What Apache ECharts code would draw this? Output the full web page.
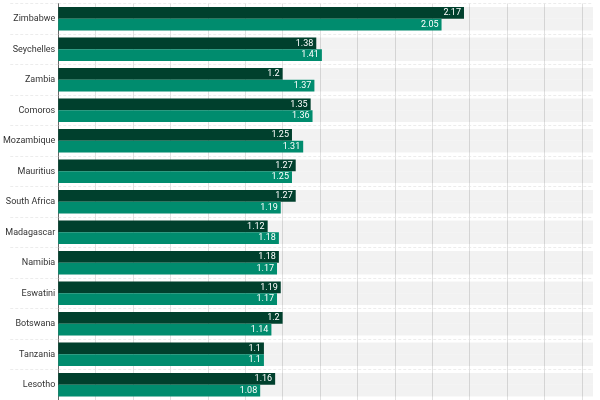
<!DOCTYPE html>
<html>
<head>
<meta charset="utf-8">
<script src="https://cdn.jsdelivr.net/npm/echarts@6/dist/echarts.min.js"></script>
<style>html,body{margin:0;padding:0;background:#fff}#c{width:600px;height:400px}</style>
</head>
<body>
<div id="c"></div>
<script>
const categories = ['Zimbabwe','Seychelles','Zambia','Comoros','Mozambique','Mauritius','South Africa','Madagascar','Namibia','Eswatini','Botswana','Tanzania','Lesotho'];
const seriesA = [2.17,1.38,1.2,1.35,1.25,1.27,1.27,1.12,1.18,1.19,1.2,1.1,1.16];
const seriesB = [2.05,1.41,1.37,1.36,1.31,1.25,1.19,1.18,1.17,1.17,1.14,1.1,1.08];

const chart = echarts.init(document.getElementById('c'));
const lbl = {show:true, position:'insideRight', color:'#fff', fontSize:9, fontFamily:'Roboto', distance:3};
chart.setOption({
  animation:false,
  grid:{left:55, right:7, top:3.5, bottom:-1, containLabel:false},
  xAxis:{type:'value', min:0, max:2.86, interval:0.2,
    axisLabel:{show:false}, axisLine:{show:false}, axisTick:{show:false},
    splitLine:{show:true, showMinLine:false, showMaxLine:false, lineStyle:{color:'#e0e0e0', width:1}}},
  yAxis:{type:'category', data:categories, inverse:true,
    axisLine:{show:true, lineStyle:{color:'#666', width:1}},
    axisTick:{show:true, length:48, lineStyle:{color:'#ececec', type:[3,2]}},
    axisLabel:{color:'#333', fontSize:9, fontFamily:'Roboto', margin:3},
    splitLine:{show:true, lineStyle:{color:'#ececec', type:[3,2]}}},
  series:[
    {type:'bar', data:seriesA, barGap:'0%', barCategoryGap:'23%',
     itemStyle:{color:'#00402d'}, label:lbl,
     showBackground:true, backgroundStyle:{color:'rgba(0,0,0,0.05)'}},
    {type:'bar', data:seriesB,
     itemStyle:{color:'#008c6e'}, label:lbl,
     showBackground:true, backgroundStyle:{color:'rgba(0,0,0,0.05)'}}
  ]
});
</script>
</body>
</html>
